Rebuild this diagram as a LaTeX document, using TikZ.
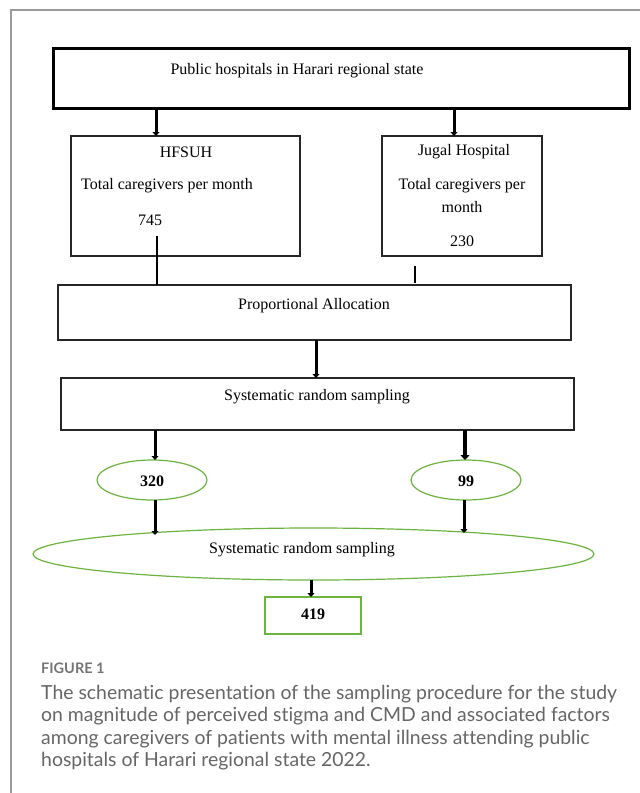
\documentclass[tikz,border=0pt]{standalone}
\usepackage{fontspec}
\setmainfont{Liberation Serif}
\newfontfamily\capfont{Lato}[Ligatures=NoCommon]
\usetikzlibrary{shapes.geometric,arrows.meta}
\definecolor{frame}{HTML}{9A9A9A}
\definecolor{leaf}{HTML}{6DB33F}
\definecolor{captxt}{HTML}{666666}
\tikzset{
  box/.style={draw=black!85, line width=1.3pt, rectangle, inner sep=0pt, outer sep=0pt},
  bigbox/.style={draw=black, line width=3pt, rectangle, inner sep=0pt, outer sep=0pt},
  oval/.style={draw=leaf, line width=1.2pt, ellipse, inner sep=0pt, outer sep=0pt},
  gbox/.style={draw=leaf, line width=1.2pt, rectangle, inner sep=0pt, outer sep=0pt},
  txt/.style={inner sep=0pt, font=\fontsize{16}{18}\selectfont},
  btxt/.style={inner sep=0pt, font=\fontsize{16}{18}\selectfont\bfseries},
  arr/.style={line width=3pt, -{Triangle[width=7pt,length=4pt]}},
  warr/.style={line width=4.5pt, -{Triangle[width=9pt,length=5pt]}},
  thinline/.style={line width=1.5pt},
  captext/.style={inner sep=0pt, anchor=base west, text=captxt, font=\capfont\fontsize{19.4}{22}\selectfont},
}
\begin{document}
\begin{tikzpicture}[x=1pt,y=-1pt]
\useasboundingbox (0,0) rectangle (640,793);
\fill[white] (0,0) rectangle (640,793);
% outer frame
\draw[frame, line width=1.5pt] (11,793) -- (11,10) -- (640,10);

% boxes
\node[bigbox, minimum width=576pt, minimum height=60pt] (top) at (341,78) {};
\node[txt] (toptxt) at (297,71) {Public hospitals in Harari regional state};

\node[box, minimum width=229pt, minimum height=120pt] (hf) at (185.5,196) {};
\node[txt] (hfa) at (186,152) {HFSUH};
\node[txt, anchor=west] (hfb) at (81,186) {Total caregivers per month};
\node[txt] (hfc) at (150,220) {745};

\node[box, minimum width=160pt, minimum height=120pt] (jg) at (462,196) {};
\node[txt] (jga) at (464,152) {Jugal Hospital};
\node[txt] (jgb) at (462,186) {Total caregivers per};
\node[txt] (jgc) at (462,207) {month};
\node[txt] (jgd) at (462,241) {230};

\node[box, minimum width=513pt, minimum height=55pt] (pa) at (314.5,312.5) {};
\node[txt] (patxt) at (314,306) {Proportional Allocation};

\node[box, minimum width=513pt, minimum height=52pt] (sr) at (317.5,404) {};
\node[txt] (srtxt) at (317,397) {Systematic random sampling};

\node[oval, minimum width=110pt, minimum height=40pt] (e320) at (152,480) {};
\node[btxt] (t320) at (152,481) {320};
\node[oval, minimum width=110pt, minimum height=40pt] (e99) at (466,480) {};
\node[btxt] (t99) at (466,481) {99};

\node[oval, minimum width=561pt, minimum height=52pt] (big) at (313.5,554) {};
\node[txt] (bigtxt) at (302,550) {Systematic random sampling};

\node[gbox, minimum width=96pt, minimum height=37pt] (b419) at (313,615.5) {};
\node[btxt] (t419) at (313,614) {419};

% connectors
\coordinate (xa) at (156,0);
\coordinate (xb) at (454,0);
\coordinate (hfend) at (157,236);
\coordinate (jgs) at (415,266);
\coordinate (jge) at (415,283);
\coordinate (xc) at (316,0);
\coordinate (xd) at (155,0);
\coordinate (xe) at (465,0);
\coordinate (a320) at (155,535);
\coordinate (a99) at (464,533);
\coordinate (xf) at (311,0);
\coordinate (bbot) at (311,580);

\draw[arr] (top.south -| xa) -- (hf.north -| xa);
\draw[arr] (top.south -| xb) -- (jg.north -| xb);
\draw[thinline] (hfend) -- (pa.north -| hfend);
\draw[thinline] (jgs) -- (jge);
\draw[arr] (pa.south -| xc) -- (sr.north -| xc);
\draw[arr] (sr.south -| xd) -- (e320.north -| xd);
\draw[warr] (sr.south -| xe) -- (e99.north -| xe);
\draw[arr] (e320.south -| xd) -- (a320);
\draw[arr] (e99.south -| a99) -- (a99);
\draw[arr] (bbot) -- (b419.north -| xf);

% caption
\node[captext, font=\capfont\bfseries\fontsize{14.5}{16}\selectfont, text=captxt!90] (fig) at (41,673) {FIGURE 1};
\node[captext] (c1) at (41,699) {The schematic presentation of the sampling procedure for the study};
\node[captext] (c2) at (41,721.5) {on magnitude of perceived stigma and CMD and associated factors};
\node[captext] (c3) at (41,744) {among caregivers of patients with mental illness attending public};
\node[captext] (c4) at (41,766.5) {hospitals of Harari regional state 2022.};
\end{tikzpicture}
\end{document}
